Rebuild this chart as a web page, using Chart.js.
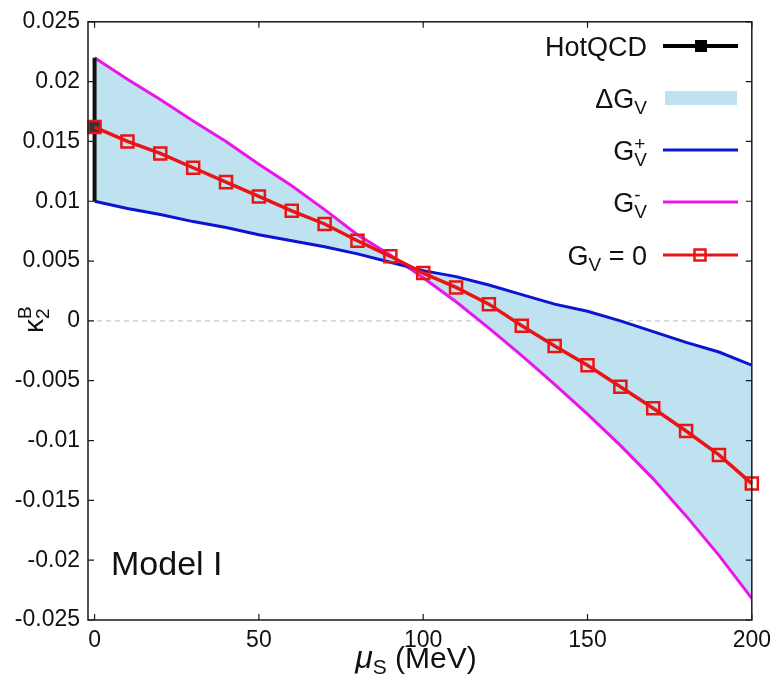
<!DOCTYPE html>
<html>
<head>
<meta charset="utf-8">
<script src="https://cdn.jsdelivr.net/npm/chart.js@4.4.1/dist/chart.umd.min.js"></script>
<style>
    html, body { margin: 0; padding: 0; background: #fff; }
    #wrap { width: 778px; height: 676px; }
</style>
</head>
<body>
<div id="wrap"><canvas id="chart1" width="778" height="676"></canvas></div>
<script>
// mu_S values (MeV)
const muS = [0, 10, 20, 30, 40, 50, 60, 70, 80, 90, 100, 110, 120, 130, 140, 150, 160, 170, 180, 190, 200];

// kappa_2^B for G_V = 0 (red squares)
const kappaGv0 = [0.0162, 0.0150, 0.0140, 0.0128, 0.0116, 0.0104, 0.0092, 0.0081, 0.0067, 0.0054, 0.0040,
    0.0028, 0.0014, -0.0004, -0.0021, -0.0037, -0.0055, -0.0073, -0.0092, -0.0112, -0.0136];

// kappa_2^B for G_V^+ (blue)
const kappaGplus = [0.0100, 0.0094, 0.0089, 0.0083, 0.0078, 0.0072, 0.0067, 0.0062, 0.0056, 0.0049, 0.0042,
    0.0037, 0.0030, 0.0022, 0.0014, 0.0008, 0.0000, -0.0009, -0.0018, -0.0026, -0.0037];

// kappa_2^B for G_V^- (magenta)
const kappaGminus = [0.0220, 0.0202, 0.0185, 0.0167, 0.0150, 0.0131, 0.0113, 0.0093, 0.0072, 0.0055, 0.0036,
    0.0016, -0.0006, -0.0029, -0.0053, -0.0078, -0.0104, -0.0132, -0.0163, -0.0196, -0.0232];

// HotQCD point with error bar
const hotqcdMu = [0];
const hotqcdValue = [0.0162];
const hotqcdLow = [0.0100];
const hotqcdHigh = [0.0220];

// axis ticks
const xTickValues = [0, 50, 100, 150, 200];
const yTickValues = [-0.025, -0.02, -0.015, -0.01, -0.005, 0, 0.005, 0.01, 0.015, 0.02, 0.025];

const FONT = "'Liberation Sans', Arial, Helvetica, sans-serif";
const fillBlue = 'rgb(190, 226, 240)';
const lineBlue = 'rgb(12, 20, 210)';
const magenta = 'rgb(235, 20, 235)';
const red = 'rgb(235, 20, 20)';

const pts = (xs, ys) => xs.map((x, i) => ({ x: x, y: ys[i] }));

// draws pieces of text (with sub/superscripts) from x, returns the end x
function drawPieces(ctx, pieces, x, y, measureOnly) {
    let cx = x;
    pieces.forEach(p => {
        ctx.font = (p.style || '') + ' ' + p.size + 'px ' + FONT;
        const w = ctx.measureText(p.t).width;
        if (!measureOnly) ctx.fillText(p.t, cx, y + (p.dy || 0));
        if (!p.stay) cx += w;
    });
    return cx;
}

function drawRight(ctx, pieces, xRight, y) {
    const w = drawPieces(ctx, pieces, 0, 0, true);
    drawPieces(ctx, pieces, xRight - w, y, false);
}

const decorPlugin = {
    id: 'decor',
    beforeDatasetsDraw(chart) {
        const ctx = chart.ctx;
        const a = chart.chartArea;
        const y0 = chart.scales.y.getPixelForValue(0);
        ctx.save();
        ctx.strokeStyle = '#b8b8b8';
        ctx.lineWidth = 1;
        ctx.setLineDash([5, 4]);
        ctx.beginPath();
        ctx.moveTo(a.left, y0);
        ctx.lineTo(a.right, y0);
        ctx.stroke();
        ctx.restore();
    },
    afterDatasetsDraw(chart) {
        const ctx = chart.ctx;
        const a = chart.chartArea;
        const xs = chart.scales.x;
        const ys = chart.scales.y;
        ctx.save();

        // frame
        ctx.strokeStyle = '#1a1a1a';
        ctx.lineWidth = 1.5;
        ctx.strokeRect(a.left, a.top, a.right - a.left, a.bottom - a.top);

        // inward ticks (gnuplot style, mirrored)
        const tl = 6;
        ctx.lineWidth = 1.2;
        ctx.beginPath();
        xTickValues.forEach(v => {
            const px = xs.getPixelForValue(v);
            ctx.moveTo(px, a.bottom); ctx.lineTo(px, a.bottom - tl);
            ctx.moveTo(px, a.top); ctx.lineTo(px, a.top + tl);
        });
        yTickValues.forEach(v => {
            const py = ys.getPixelForValue(v);
            ctx.moveTo(a.left, py); ctx.lineTo(a.left + tl, py);
            ctx.moveTo(a.right, py); ctx.lineTo(a.right - tl, py);
        });
        ctx.stroke();

        // legend
        ctx.fillStyle = '#111';
        ctx.textAlign = 'left';
        ctx.textBaseline = 'alphabetic';
        const tx = 647, s0 = 663, s1 = 738;
        const big = 27, small = 19;
        const rows = [
            { y: 46, pieces: [{ t: 'HotQCD', size: big }] },
            { y: 98, pieces: [{ t: '\u0394G', size: big }, { t: 'V', size: small, dy: 6 }] },
            { y: 150, pieces: [{ t: 'G', size: big }, { t: '+', size: small, dy: -10, stay: true }, { t: 'V', size: small, dy: 6 }] },
            { y: 202, pieces: [{ t: 'G', size: big }, { t: '-', size: small, dy: -11, stay: true }, { t: 'V', size: small, dy: 6 }] },
            { y: 255, pieces: [{ t: 'G', size: big }, { t: 'V', size: small, dy: 6 }, { t: ' = 0', size: big }] }
        ];
        rows.forEach(r => drawRight(ctx, r.pieces, tx, r.y + 10));

        // samples
        ctx.lineCap = 'butt';
        ctx.strokeStyle = '#000';
        ctx.lineWidth = 4;
        ctx.beginPath(); ctx.moveTo(s0, 46); ctx.lineTo(s1, 46); ctx.stroke();
        ctx.fillStyle = '#000';
        ctx.fillRect(701 - 6, 46 - 6, 12, 12);

        ctx.fillStyle = fillBlue;
        ctx.fillRect(s0 + 2, 91, s1 - s0 - 3, 14);

        ctx.lineWidth = 3;
        ctx.strokeStyle = lineBlue;
        ctx.beginPath(); ctx.moveTo(s0, 150); ctx.lineTo(s1, 150); ctx.stroke();
        ctx.strokeStyle = magenta;
        ctx.beginPath(); ctx.moveTo(s0, 202); ctx.lineTo(s1, 202); ctx.stroke();
        ctx.strokeStyle = red;
        ctx.beginPath(); ctx.moveTo(s0, 255); ctx.lineTo(s1, 255); ctx.stroke();
        ctx.lineWidth = 2.5;
        ctx.strokeRect(700 - 5.5, 255 - 5.5, 11, 11);

        // "Model I"
        ctx.fillStyle = '#111';
        ctx.font = '34px ' + FONT;
        ctx.fillText('Model I', 111, 575);

        // x title: mu_S (MeV)
        const xt = [{ t: '\u03bc', size: 32, style: 'italic' }, { t: 'S', size: 21, dy: 6 }, { t: ' (MeV)', size: 30 }];
        const xw = drawPieces(ctx, xt, 0, 0, true);
        drawPieces(ctx, xt, 416 - xw / 2, 668, false);

        // y title: kappa_2^B (rotated)
        ctx.translate(43, 333);
        ctx.rotate(-Math.PI / 2);
        drawPieces(ctx, [{ t: '\u03ba', size: 28 }, { t: 'B', size: 19, dy: -12, stay: true }, { t: '2', size: 19, dy: 6 }], 0, 0, false);

        ctx.restore();
    }
};

window.addEventListener('DOMContentLoaded', () => {
    const ctx = document.getElementById('chart1').getContext('2d');

    new Chart(ctx, {
        type: 'line',
        data: {
            datasets: [
                {
                    label: 'G_V = 0',
                    data: pts(muS, kappaGv0),
                    borderColor: red,
                    borderWidth: 3.5,
                    pointStyle: 'rect',
                    pointRadius: 8.5,
                    pointBorderWidth: 2.5,
                    pointBorderColor: red,
                    pointBackgroundColor: 'rgba(0,0,0,0)',
                    clip: false,
                    order: 0
                },
                {
                    label: 'HotQCD',
                    data: pts(hotqcdMu, hotqcdValue),
                    showLine: false,
                    pointStyle: 'rect',
                    pointRadius: 8.5,
                    pointBackgroundColor: '#333',
                    pointBorderColor: '#333',
                    clip: false,
                    order: 1
                },
                {
                    label: 'HotQCD error',
                    data: [{ x: hotqcdMu[0], y: hotqcdLow[0] }, { x: hotqcdMu[0], y: hotqcdHigh[0] }],
                    borderColor: '#111',
                    borderWidth: 4,
                    pointRadius: 0,
                    clip: false,
                    order: 2
                },
                {
                    label: 'G_V^+',
                    data: pts(muS, kappaGplus),
                    borderColor: lineBlue,
                    borderWidth: 3,
                    pointRadius: 0,
                    order: 3
                },
                {
                    label: 'G_V^-',
                    data: pts(muS, kappaGminus),
                    borderColor: magenta,
                    borderWidth: 3,
                    pointRadius: 0,
                    backgroundColor: fillBlue,
                    fill: { target: 3 },
                    order: 4
                }
            ]
        },
        options: {
            responsive: false,
            maintainAspectRatio: false,
            animation: false,
            layout: { padding: { top: 20, right: 25, left: 0, bottom: 0 } },
            plugins: {
                legend: { display: false },
                tooltip: { enabled: false },
                filler: { propagate: false }
            },
            scales: {
                x: {
                    type: 'linear',
                    min: -2,
                    max: 200,
                    grid: { display: false, drawTicks: false },
                    border: { display: false },
                    afterBuildTicks: scale => { scale.ticks = xTickValues.map(v => ({ value: v })); },
                    afterFit: scale => { scale.height = 56; },
                    ticks: {
                        padding: 7,
                        color: '#111',
                        font: { family: FONT, size: 23 },
                        maxRotation: 0,
                        callback: v => String(v)
                    }
                },
                y: {
                    type: 'linear',
                    min: -0.025,
                    max: 0.025,
                    grid: { display: false, drawTicks: false },
                    border: { display: false },
                    afterBuildTicks: scale => { scale.ticks = yTickValues.map(v => ({ value: v })); },
                    afterFit: scale => { scale.width = 88; },
                    ticks: {
                        padding: 8,
                        color: '#111',
                        font: { family: FONT, size: 23 },
                        callback: v => String(parseFloat(v.toFixed(3)))
                    }
                }
            }
        },
        plugins: [decorPlugin]
    });
});
</script>
</body>
</html>
